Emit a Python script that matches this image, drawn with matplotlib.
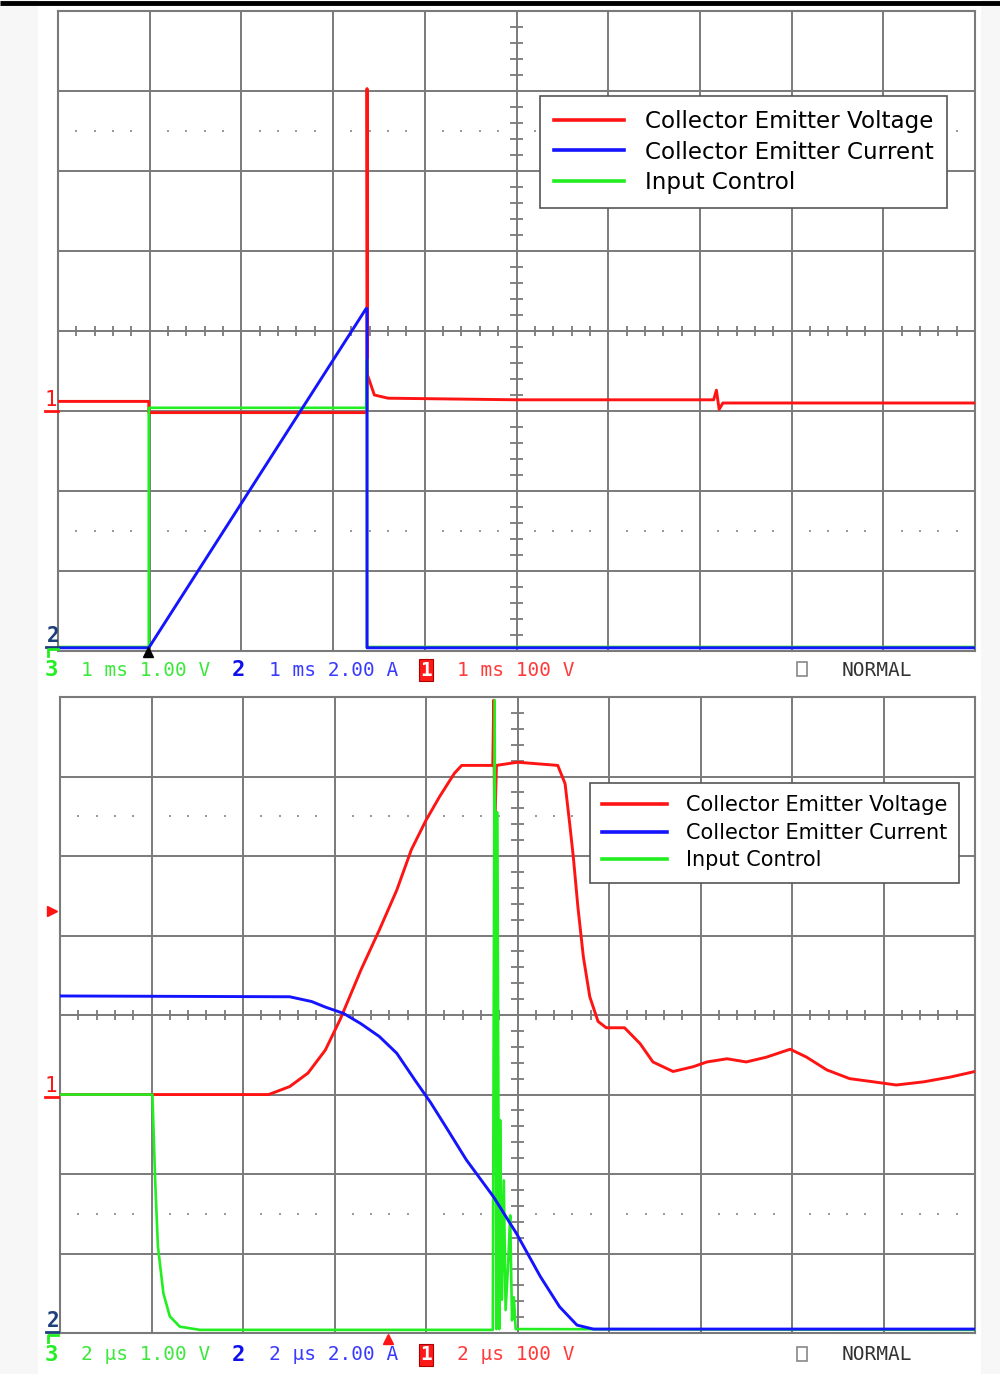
import matplotlib
matplotlib.use('Agg')
import matplotlib.pyplot as plt
from matplotlib.patches import Rectangle
import numpy as np

# trace values, in graticule divisions (x: 0..10, y: -4..4)
# top capture, 1 ms/div
top_red_t = [0, 0.99, 0.99, 3.36, 3.37, 3.37, 3.375, 3.45, 3.6, 5.0, 7.15, 7.18, 7.21, 7.25, 10]
top_red_v = [-0.88, -0.88, -1.02, -1.02, -1.0, 3.03, -0.55, -0.8, -0.84, -0.86, -0.86, -0.74, -0.98, -0.9, -0.9]
top_green_t = [0, 0.99, 0.99, 3.36, 3.37, 3.37, 10]
top_green_v = [-3.95, -3.95, -0.96, -0.96, -0.35, -3.95, -3.95]
top_blue_t = [0, 0.99, 3.36, 3.37, 3.37, 10]
top_blue_v = [-3.96, -3.96, 0.28, 0.28, -3.96, -3.96]

# bottom capture, 2 us/div
bot_red_t = [0, 2.28, 2.51, 2.71, 2.90, 3.06, 3.29, 3.49, 3.68, 3.84,
             4.0, 4.15, 4.31, 4.39, 4.73, 4.74, 4.75, 4.77, 5.0, 5.44,
             5.52, 5.57, 5.61, 5.66, 5.72, 5.79, 5.88, 5.97, 6.17, 6.34,
             6.48, 6.70, 6.92, 7.07, 7.29, 7.50, 7.72, 7.98, 8.16, 8.38,
             8.63, 8.89, 9.14, 9.44, 9.73, 10.0]
bot_red_v = [-1.0, -1.0, -0.90, -0.73, -0.44, -0.06, 0.57, 1.07, 1.57, 2.08,
             2.45, 2.75, 3.04, 3.14, 3.14, 3.96, 2.26, 3.14, 3.18, 3.14,
             2.91, 2.41, 1.99, 1.36, 0.73, 0.23, -0.08, -0.16, -0.16, -0.36,
             -0.59, -0.71, -0.65, -0.59, -0.55, -0.59, -0.53, -0.43, -0.53, -0.69,
             -0.80, -0.84, -0.88, -0.84, -0.78, -0.71]
bot_blue_t = [0, 2.51, 2.75, 2.90, 3.10, 3.29, 3.49, 3.68, 3.88, 4.05,
              4.23, 4.44, 4.74, 4.99, 5.25, 5.46, 5.65, 5.83, 10]
bot_blue_v = [0.24, 0.23, 0.17, 0.10, 0.02, -0.11, -0.27, -0.48, -0.82, -1.1,
              -1.43, -1.82, -2.29, -2.75, -3.29, -3.67, -3.90, -3.95, -3.95]
bot_green_t = [0, 1.01, 1.04, 1.07, 1.13, 1.20, 1.31, 1.53, 4.73, 4.75,
               4.77, 4.78, 4.80, 4.81, 4.83, 4.85, 4.87, 4.90, 4.92, 4.94,
               4.96, 4.98, 10]
bot_green_v = [-1.0, -1.0, -2.08, -2.91, -3.50, -3.79, -3.92, -3.96, -3.96, 3.96,
               -3.95, 2.55, -3.95, -1.32, -3.58, -2.08, -3.71, -3.08, -2.52, -3.84,
               -3.55, -3.95, -3.96]

labels = ['Collector Emitter Voltage', 'Collector Emitter Current', 'Input Control']
top_status = ['1 ms 1.00 V', '1 ms 2.00 A', '1 ms 100 V']
bot_status = ['2 \u00b5s 1.00 V', '2 \u00b5s 2.00 A', '2 \u00b5s 100 V']

RED, BLUE, GREEN = '#ff1414', '#1414ff', '#22ee22'
GRID = '#7a7a7a'
W, H = 1000, 1374

fig = plt.figure(figsize=(W / 100, H / 100), dpi=100)

# background strips and the top rule, drawn in pixel coordinates
bg = fig.add_axes([0, 0, 1, 1], zorder=0)
bg.set_xlim(0, W)
bg.set_ylim(H, 0)
bg.axis('off')
bg.add_patch(Rectangle((0, 0), 38, H, color='#f7f7f7', lw=0))
bg.add_patch(Rectangle((981, 0), 19, H, color='#f7f7f7', lw=0))
bg.plot([0, W], [3, 3], color='black', lw=3.5, solid_capstyle='butt')


def scope_panel(rect, red, blue, green, leg_anchor, leg_size, leg_handle, leg_space):
    ax = fig.add_axes(rect, zorder=1)
    ax.set_xlim(0, 10)
    ax.set_ylim(-4, 4)
    ax.set_xticks(range(11))
    ax.set_yticks(range(-4, 5))
    ax.tick_params(length=0, labelbottom=False, labelleft=False)
    ax.grid(True, color=GRID, lw=1.4)
    for s in ax.spines.values():
        s.set_color(GRID)
        s.set_linewidth(1.5)

    # graticule: minor ticks on the centre cross and dotted rows
    minor = [v for v in np.arange(0.2, 10, 0.2) if abs(v - round(v)) > 0.05]
    ax.vlines(minor, -0.065, 0.065, color=GRID, lw=1.3)
    minor_y = [v - 4 for v in np.arange(0.2, 8, 0.2) if abs(v - round(v)) > 0.05]
    ax.hlines(minor_y, 4.93, 5.07, color=GRID, lw=1.3)
    for yy in (2.5, -2.5):
        ax.plot(minor, [yy] * len(minor), ls='none', marker='s', ms=1.6,
                color='#9a9a9a', mew=0)

    lr, = ax.plot(red[0], red[1], color=RED, lw=2.1, zorder=3)
    lg, = ax.plot(green[0], green[1], color=GREEN, lw=1.9, zorder=4)
    lb, = ax.plot(blue[0], blue[1], color=BLUE, lw=2.1, zorder=5)

    leg = ax.legend([lr, lb, lg], labels, loc='upper left', bbox_to_anchor=leg_anchor,
                    fontsize=leg_size, frameon=True, fancybox=False, framealpha=1,
                    edgecolor='#555555', handlelength=leg_handle, handletextpad=0.9,
                    labelspacing=leg_space, borderpad=0.6, borderaxespad=0)
    leg.get_frame().set_linewidth(1.2)
    for h in leg.legend_handles:
        h.set_linewidth(2.6)
    return ax


scope_panel([0.058, 0.5262, 0.917, 0.4658],
            (top_red_t, top_red_v), (top_blue_t, top_blue_v), (top_green_t, top_green_v),
            (0.5256, 0.867), 16.6, 3.05, 0.33)
scope_panel([0.060, 0.0298, 0.915, 0.4629],
            (bot_red_t, bot_red_v), (bot_blue_t, bot_blue_v), (bot_green_t, bot_green_v),
            (0.579, 0.865), 15, 3.1, 0.36)

# overlay for the scope annotations, pixel coordinates
ov = fig.add_axes([0, 0, 1, 1], zorder=6)
ov.set_xlim(0, W)
ov.set_ylim(H, 0)
ov.axis('off')
ov.patch.set_alpha(0)

mono = 'DejaVu Sans Mono'


def status_row(py, texts):
    ov.text(45, py, '3', color=GREEN, fontsize=16, fontweight='bold', family=mono, va='center')
    ov.text(81, py, texts[0], color='#3be83b', fontsize=14, family=mono, va='center')
    ov.text(232, py, '2', color='#1010ee', fontsize=16, fontweight='bold', family=mono, va='center')
    ov.text(269, py, texts[1], color='#3a3aff', fontsize=14, family=mono, va='center')
    ov.text(426, py, '1', color='white', fontsize=14, fontweight='bold', family=mono,
            va='center', ha='center',
            bbox=dict(boxstyle='square,pad=0.08', fc='#ff1a1a', ec='#aa0000', lw=0.8))
    ov.text(457, py, texts[2], color='#ff3a3a', fontsize=14, family=mono, va='center')
    ov.add_patch(Rectangle((797, py - 8), 10, 14, fill=False, ec='#888888', lw=1.2))
    ov.text(842, py, 'NORMAL', color='#333333', fontsize=14, family=mono, va='center')


def ground_marks(py1, py2, bottom):
    ov.text(51, py1, '1', color=RED, fontsize=15, family=mono, ha='center', va='bottom')
    ov.plot([45, 58], [py1 + 1, py1 + 1], color=RED, lw=2)
    ov.text(53, py2, '2', color='#1d3f7a', fontsize=15, fontweight='bold', family=mono,
            ha='center', va='bottom')
    ov.plot([46, 58], [py2 + 1, py2 + 1], color='#1d3f7a', lw=2)
    ov.plot([48, 48, 58], [bottom + 8, bottom + 1, bottom + 1], color=GREEN, lw=2)


status_row(670, top_status)
status_row(1355, bot_status)
ground_marks(410, 646, 648)
ground_marks(1096, 1331, 1334)

ov.plot([148], [652], marker='^', color='black', ms=7)
ov.plot([52], [911], marker='>', color=RED, ms=7)
ov.plot([388], [1339], marker='^', color=RED, ms=7)

fig.savefig('out.png', dpi=100, facecolor='white')
